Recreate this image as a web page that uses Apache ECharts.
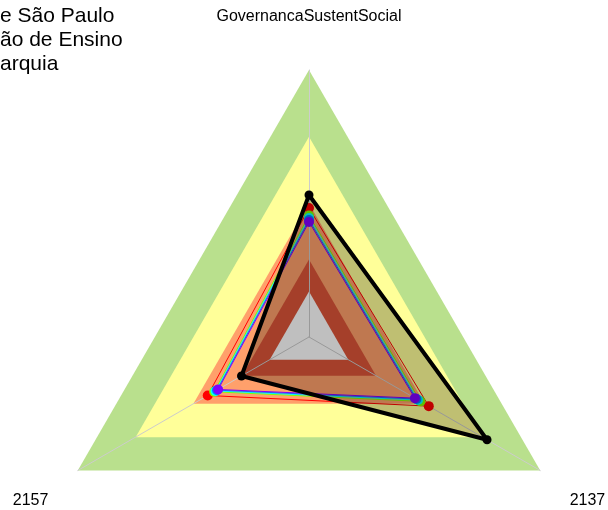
<!DOCTYPE html>
<html>
<head>
<meta charset="utf-8">
<script src="https://cdn.jsdelivr.net/npm/echarts@6/dist/echarts.min.js"></script>
<style>
  html,body{margin:0;padding:0;background:#fff;}
  #chart{width:608px;height:510px;}
</style>
</head>
<body>
<div id="chart"></div>
<script>
// eixos do radar
var indicatorNames = ['GovernancaSustentSocial', '2157', '2137'];
var titleLines = ['e São Paulo', 'ão de Ensino', 'arquia'];

// faixas de fundo (limite externo de cada faixa)
var bandLevels = [1, 0.75, 0.5, 0.29, 0.17];
var bandColors = ['#b9e08d', '#ffff99', '#ffa06b', '#dd5538', '#ffffff'];

// series (valores normalizados 0..1)
var seriesNames = ['s1', 's2', 's3', 's4', 's5'];
var seriesColors = ['#ff0000', '#80ff00', '#00ffff', '#0080ff', '#8000ff'];
var seriesValues = [
  [0.483, 0.438, 0.518],
  [0.455, 0.410, 0.482],
  [0.446, 0.404, 0.472],
  [0.438, 0.398, 0.465],
  [0.431, 0.393, 0.458]
];
var refName = 'ref';
var refValues = [0.532, 0.292, 0.770];

var chart = echarts.init(document.getElementById('chart'));

var indicator = indicatorNames.map(function(n){ return {name:n, max:1, min:0}; });

var series = [];
for (var i = 0; i < bandLevels.length; i++) {
  var lv = bandLevels[i];
  series.push({
    type:'radar', radarIndex:0, z:1, silent:true,
    symbol:'none',
    lineStyle:{width:0, opacity:0},
    areaStyle:{color:bandColors[i], opacity:1},
    data:[{value:[lv, lv, lv]}]
  });
}
for (var j = 0; j < seriesValues.length; j++) {
  series.push({
    type:'radar', radarIndex:1, z:10, name:seriesNames[j],
    symbol:'circle', symbolSize:10,
    itemStyle:{color:seriesColors[j]},
    lineStyle:{color:seriesColors[j], width:1},
    data:[{value:seriesValues[j]}]
  });
}
series.push({
  type:'radar', radarIndex:1, z:11, name:refName,
  symbol:'circle', symbolSize:9,
  itemStyle:{color:'#000'},
  lineStyle:{color:'#000', width:4},
  areaStyle:{color:'rgba(0,0,0,0.25)', opacity:1},
  data:[{value:refValues}]
});

var option = {
  animation:false,
  backgroundColor:'#fff',
  title:{
    text:titleLines.join('\n'),
    left:0, top:4, padding:0,
    textStyle:{color:'#000', fontSize:21, lineHeight:24, fontWeight:'normal', fontFamily:'Liberation Sans, Arial, sans-serif'}
  },
  radar:[
    {
      z:0,
      center:[309, 337], radius:267, shape:'polygon', startAngle:90,
      indicator:indicator,
      axisName:{show:false},
      axisLine:{show:false}, splitLine:{show:false}, splitArea:{show:false}
    },
    {
      z:5,
      center:[309, 337], radius:267, shape:'polygon', startAngle:90,
      indicator:indicator,
      nameGap:34,
      axisName:{
        color:'#000', fontSize:16, lineHeight:26,
        fontFamily:'Liberation Sans, Arial, sans-serif',
        padding:[0,0,6,0],
        formatter:function(n){ return '\n' + n; }
      },
      axisLine:{show:true, lineStyle:{color:'#cccccc', width:1}},
      splitLine:{show:false}, splitArea:{show:false}
    }
  ],
  series:series
};
chart.setOption(option);
</script>
</body>
</html>
